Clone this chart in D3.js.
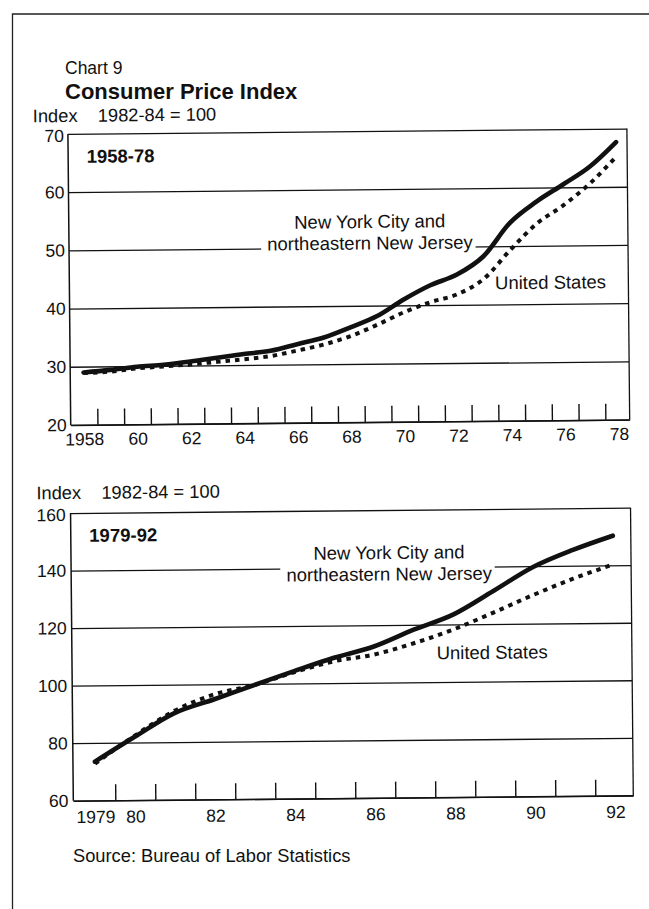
<!DOCTYPE html>
<html><head><meta charset="utf-8">
<script src="https://cdn.jsdelivr.net/npm/d3@7"></script>
<style>
html,body{margin:0;padding:0;background:#fff;}
svg{display:block;}
text{font-family:"Liberation Sans", Arial, Helvetica, sans-serif; fill:#111;}
</style></head><body>
<svg id="chart" width="649" height="909"></svg>
<script>
// ---- data ----
const years1 = [1958,1959,1960,1961,1962,1963,1964,1965,1966,1967,1968,1969,1970,1971,1972,1973,1974,1975,1976,1977,1978];
const nyc1   = [29.0,29.4,29.9,30.2,30.7,31.3,31.9,32.4,33.5,34.6,36.3,38.2,41.0,43.4,45.2,48.3,54.0,57.6,60.5,63.5,67.7];
const us1    = [28.9,29.1,29.6,29.9,30.2,30.6,31.0,31.5,32.4,33.4,34.8,36.7,38.8,40.5,41.8,44.4,49.3,53.8,56.9,60.6,65.2];

const years2 = [1979,1980,1981,1982,1983,1984,1985,1986,1987,1988,1989,1990,1991,1992];
const nyc2   = [73.5,82.0,90.1,94.8,99.6,104.3,108.8,112.6,118.3,123.5,131.5,139.7,145.5,150.3];
const us2    = [72.8,82.4,90.9,96.5,99.6,103.9,107.6,109.8,113.6,118.3,124.0,130.0,135.5,140.3];

const xLabelYears1 = [1958,1960,1962,1964,1966,1968,1970,1972,1974,1976,1978];
const xLabels1 = ["1958","60","62","64","66","68","70","72","74","76","78"];
const yTicks1 = [20,30,40,50,60,70];

const xLabelYears2 = [1979,1980,1982,1984,1986,1988,1990,1992];
const xLabels2 = ["1979","80","82","84","86","88","90","92"];
const yTicks2 = [60,80,100,120,140,160];

const seriesNames = ["New York City and", "northeastern New Jersey", "United States"];

// ---- drawing ----
const FONT = '"Liberation Sans", Arial, Helvetica, sans-serif';
const INK = '#111';
const svg = d3.select('#chart');

// outer frame
svg.append('path').attr('d','M649,14H12.5V909').attr('fill','none').attr('stroke','#222').attr('stroke-width',1.3);

svg.append('text').attr('x',65).attr('y',74).attr('font-size',17.5).text('Chart 9');
svg.append('text').attr('x',65).attr('y',99).attr('font-size',22).attr('font-weight','bold').text('Consumer Price Index');

const root = svg.append('g').attr('transform','rotate(-0.55,324,454)');

function panel(cfg) {
  const x = d3.scaleLinear().domain(cfg.xDomain).range([cfg.x0, cfg.x1]);
  const y = d3.scaleLinear().domain(cfg.yDomain).range([cfg.yBot, cfg.yTop]);
  const g = root.append('g');

  // axis title
  g.append('text').attr('x',cfg.titleX).attr('y',cfg.yTop-cfg.titleGap).attr('font-size',18.3).text('Index');
  g.append('text').attr('x',cfg.titleX+65).attr('y',cfg.yTop-cfg.titleGap).attr('font-size',18.3).text('1982-84 = 100');

  // grid lines (incl. top border)
  const grid = g.append('g').attr('transform',`translate(${cfg.x0},0)`)
    .call(d3.axisLeft(y).tickValues(cfg.yTicks).tickSize(-(cfg.x1-cfg.x0)).tickSizeOuter(0).tickFormat(''));
  grid.select('.domain').remove();
  grid.selectAll('line').attr('stroke',INK).attr('stroke-width',1.3);

  // y labels
  const yl = g.append('g').attr('transform',`translate(${cfg.x0},0)`)
    .call(d3.axisLeft(y).tickValues(cfg.yTicks).tickSize(0).tickPadding(cfg.yPad));
  yl.select('.domain').remove();
  yl.attr('font-family',FONT).attr('font-size',17.5);
  yl.selectAll('text').attr('fill',INK).attr('dy', (d,i)=> i===cfg.yTicks.length-1 ? '0.42em' : '0.32em');

  // left & right borders
  g.append('line').attr('x1',cfg.x0).attr('x2',cfg.x0).attr('y1',cfg.yTop).attr('y2',cfg.yBot).attr('stroke',INK).attr('stroke-width',1.5);
  g.append('line').attr('x1',cfg.x1).attr('x2',cfg.x1).attr('y1',cfg.yTop).attr('y2',cfg.yBot).attr('stroke',INK).attr('stroke-width',1.3);

  // bottom axis with inward ticks at year boundaries
  const halfTicks = d3.range(cfg.xLabelYears[0] + 0.5, cfg.lastYear, 1);
  const xa = g.append('g').attr('transform',`translate(0,${cfg.yBot})`)
    .call(d3.axisBottom(x).tickValues(halfTicks).tickSize(-16).tickSizeOuter(0).tickFormat(''));
  xa.select('.domain').attr('stroke',INK).attr('stroke-width',1.6);
  xa.selectAll('.tick line').attr('stroke',INK).attr('stroke-width',1.4);

  // x labels at year centres
  const xl = g.append('g').attr('transform',`translate(0,${cfg.yBot})`)
    .call(d3.axisBottom(x).tickValues(cfg.xLabelYears).tickSize(0).tickPadding(cfg.xPad)
      .tickFormat((d,i)=>cfg.xLabels[i]));
  xl.select('.domain').remove();
  xl.attr('font-family',FONT).attr('font-size',17.5);
  xl.selectAll('text').attr('fill',INK);

  // period label
  g.append('text').attr('x',cfg.x0+18.5).attr('y',cfg.yTop+29).attr('font-size',18.5).attr('font-weight','bold').text(cfg.period);

  // series labels
  g.append('text').attr('x',cfg.nyX).attr('y',cfg.nyY).attr('text-anchor','middle').attr('font-size',18.5).text(seriesNames[0]);
  const bgLayer = g.append('g');
  const t2 = g.append('text').attr('x',cfg.nyX).attr('y',cfg.nyY+21.5).attr('text-anchor','middle').attr('font-size',18.5).text(seriesNames[1]);
  const bb = t2.node().getBBox();
  bgLayer.append('rect').attr('x',bb.x-6).attr('y',bb.y).attr('width',bb.width+8).attr('height',bb.height).attr('fill','#fff');
  g.append('text').attr('x',cfg.usX).attr('y',cfg.usY).attr('font-size',18.5).text(seriesNames[2]);

  // lines
  const line = d3.line().x(d=>x(d[0])).y(d=>y(d[1])).curve(d3.curveMonotoneX);
  g.append('path').datum(cfg.years.map((yr,i)=>[yr,cfg.us[i]]))
    .attr('d',line).attr('fill','none').attr('stroke',INK).attr('stroke-width',4)
    .attr('stroke-dasharray','4.5,5');
  g.append('path').datum(cfg.years.map((yr,i)=>[yr,cfg.nyc[i]]))
    .attr('d',line).attr('fill','none').attr('stroke',INK).attr('stroke-width',4.6)
    .attr('stroke-linecap','round').attr('stroke-linejoin','round');
}

panel({
  xDomain:[1957.5,1978.41], yDomain:[20,70], x0:71, x1:630, yTop:131.5, yBot:422.5,
  yTicks:yTicks1, xLabelYears:xLabelYears1, xLabels:xLabels1, lastYear:1978,
  years:years1, nyc:nyc1, us:us1, period:'1958-78', titleX:36, titleGap:12,
  yPad:4, xPad:8, nyX:372, nyY:228.4, usX:496.6, usY:290.9
});
panel({
  xDomain:[1978.45,1992.45], yDomain:[60,160], x0:70, x1:630, yTop:510.6, yBot:798.3,
  yTicks:yTicks2, xLabelYears:xLabelYears2, xLabels:xLabels2, lastYear:1992,
  years:years2, nyc:nyc2, us:us2, period:'1979-92', titleX:36, titleGap:14,
  yPad:5, xPad:10, nyX:388, nyY:559.6, usX:434.7, usY:660.4
});

svg.append('text').attr('x',73).attr('y',862).attr('font-size',18.3).text('Source:  Bureau of Labor Statistics');
</script>
</body></html>
